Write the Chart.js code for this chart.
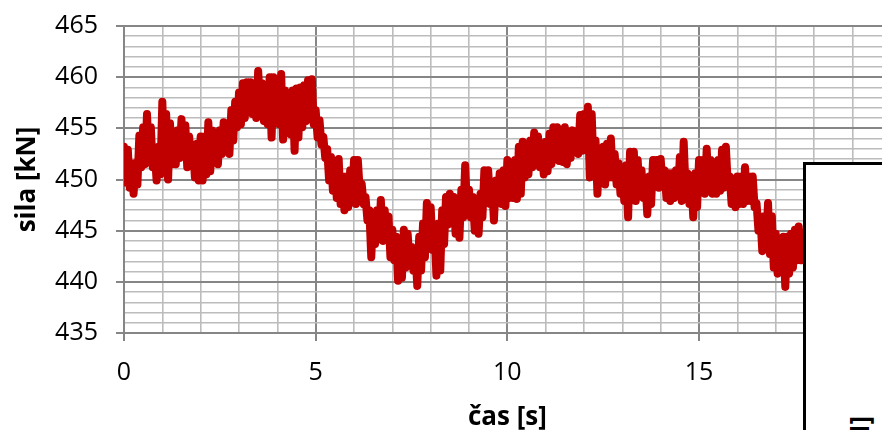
<!DOCTYPE html>
<html>
<head>
<meta charset="utf-8">
<script src="https://cdn.jsdelivr.net/npm/chart.js@4.4.1/dist/chart.umd.min.js"></script>
<style>
  html, body { margin: 0; padding: 0; background: #fff; overflow: hidden; width: 882px; height: 430px; }
  #wrap { position: relative; width: 882px; height: 430px; overflow: hidden; }
  #c { position: absolute; left: 0; top: -7px; }
  #box { position: absolute; left: 803px; top: 162px; width: 200px; height: 320px;
         border-left: 3px solid #000; border-top: 3px solid #000; background: #fff; overflow: hidden; }
  #boxlabel { position: absolute; left: 39px; top: 251px; font: bold 26px "Open Sans"; line-height: 28px;
              writing-mode: vertical-rl; transform: rotate(180deg); color: #000; white-space: nowrap; }
</style>
</head>
<body>
<div id="wrap">
  <canvas id="c" width="922" height="452"></canvas>
  <div id="box"><div id="boxlabel">sila [kN]</div></div>
</div>
<script>
// ---- data ----
const SAMPLE_DT = 0.05;          // s between samples
const X_MIN = 0, X_MAX = 20, X_STEP = 1, X_MAJOR = 5;
const Y_MIN = 435, Y_MAX = 465, Y_STEP = 1, Y_MAJOR = 5;
const xTitle = "čas [s]";
const yTitle = "sila [kN]";
const force = [
453.2,449.7, 452.9,449.2, 451.6,448.6, 451.6,449.5, 454.3,451.2, 455.1,451.5, 456.4,452.1, 455.1,451.2, 452.9,449.9, 453.2,450.5,
457.6,451.2, 456.4,450.0, 455.5,451.5, 453.5,451.5, 454.8,452.1, 455.9,452.5, 455.3,451.2, 454.2,451.8, 453.2,450.2, 453.5,449.9,
454.2,449.9, 454.2,450.5, 455.6,450.8, 454.8,452.1, 454.5,451.5, 454.8,452.5, 455.6,452.8, 455.5,452.5, 456.8,453.8, 457.6,455.1,
458.5,455.4, 459.4,456.0, 459.5,457.0, 459.5,456.4, 459.4,456.0, 460.6,457.3, 459.4,455.7, 458.1,455.4, 460.0,454.1, 460.0,456.5,
459.4,455.4, 460.3,453.9, 458.7,455.4, 457.4,454.4, 458.7,452.8, 458.9,454.1, 459.0,455.1, 459.2,455.7, 459.7,456.0, 459.8,455.4,
456.8,454.1, 455.8,453.4, 454.2,452.1, 453.0,449.9, 452.2,448.9, 451.6,448.2, 452.0,447.6, 450.3,447.0, 450.3,447.3, 450.9,448.2,
451.9,447.6, 451.9,448.9, 449.6,447.6, 448.3,446.0, 447.0,442.4, 446.7,443.7, 447.0,444.3, 448.0,444.0, 447.0,445.0, 446.4,442.4,
445.1,442.1, 444.4,440.1, 443.8,440.4, 445.1,441.4, 444.7,441.7, 443.4,441.1, 443.1,439.6, 444.4,441.1, 445.7,442.4, 447.7,443.7,
447.3,443.1, 445.1,440.6, 445.7,441.1, 447.0,443.7, 448.3,445.6, 448.6,446.3, 448.3,444.7, 448.0,444.3, 449.0,446.3, 451.4,446.9,
449.0,446.3, 448.3,445.0, 447.7,444.7, 448.6,446.3, 450.9,447.9, 450.9,447.6, 449.6,446.0, 449.9,447.9, 450.6,447.6, 450.9,447.4,
451.9,448.2, 451.4,448.2, 451.9,448.1, 453.2,448.6, 453.7,450.2, 453.5,450.5, 453.8,451.2, 454.6,451.5, 454.2,451.2, 453.5,450.5,
453.7,450.8, 454.5,451.5, 455.1,452.0, 455.1,451.8, 454.8,451.7, 455.1,451.5, 454.2,452.1, 454.8,452.8, 454.5,452.5, 456.3,452.8,
456.4,453.1, 457.1,450.2, 456.4,450.8, 453.8,448.6, 452.9,449.9, 453.2,449.5, 453.5,450.2, 454.0,450.2, 452.5,449.5, 451.6,448.6,
450.6,447.9, 451.4,446.3, 452.7,448.2, 452.7,447.9, 451.9,448.6, 450.9,448.2, 449.9,446.6, 450.3,447.6, 451.9,449.5, 451.9,449.2,
452.0,449.5, 450.9,448.2, 450.6,447.9, 450.6,448.2, 450.9,448.6, 452.2,447.9, 453.7,448.9, 450.6,447.6, 449.9,446.3, 450.6,447.3,
451.9,449.2, 451.9,448.6, 453.0,449.2, 451.9,448.6, 451.6,448.6, 451.9,448.9, 452.9,449.2, 453.2,449.5, 450.3,447.6, 449.6,447.3,
450.3,447.6, 450.3,447.6, 451.2,447.9, 450.3,447.9, 450.3,447.3, 447.7,445.0, 446.4,443.0, 446.4,443.7, 447.7,442.7, 446.4,441.4,
444.7,440.8, 444.1,441.4, 444.4,439.5, 444.4,440.8, 444.7,441.4, 445.1,442.1, 445.4,442.1, 444.7,442.7, 445.0,442.5, 444.6,442.2,
445.2,442.8
];
const points = force.map((v, i) => ({ x: +(i * SAMPLE_DT).toFixed(2), y: v }));

// ---- styles ----
const FONT = "Open Sans";
const MAJOR_C = "#868686", MINOR_C = "#bcbcbc";
const isMajor = (v, m) => Math.abs(v % m) < 1e-6 || Math.abs((v % m) - m) < 1e-6;

function gridFor(m) {
  return {
    color: (c) => isMajor(c.tick.value, m) ? MAJOR_C : MINOR_C,
    lineWidth: (c) => isMajor(c.tick.value, m) ? 2 : 1.6,
    tickColor: (c) => isMajor(c.tick.value, m) ? MAJOR_C : "rgba(0,0,0,0)",
    tickWidth: 2,
    tickLength: 8,
    drawTicks: true
  };
}

new Chart(document.getElementById("c"), {
  type: "line",
  data: { datasets: [{
    data: points,
    borderColor: "#C00000",
    borderWidth: 8,
    borderJoinStyle: "round",
    borderCapStyle: "round",
    pointRadius: 0,
    tension: 0,
    fill: false,
    clip: 0
  }]},
  options: {
    responsive: false,
    animation: false,
    events: [],
    layout: { padding: 0 },
    plugins: { legend: { display: false }, tooltip: { enabled: false } },
    scales: {
      x: {
        type: "linear", min: X_MIN, max: X_MAX,
        grid: gridFor(X_MAJOR),
        border: { color: MAJOR_C, width: 2 },
        ticks: {
          stepSize: X_STEP, autoSkip: false, maxRotation: 0, includeBounds: false,
          color: "#000", padding: 17, font: { family: FONT, size: 25 },
          callback: (v) => isMajor(v, X_MAJOR) ? String(Math.round(v)) : ""
        },
        title: { display: true, text: xTitle, color: "#000", padding: { top: 0, bottom: 12 },
                 font: { family: FONT, size: 26, weight: "bold" } },
        afterFit: (s) => { s.height = 112; }
      },
      y: {
        type: "linear", min: Y_MIN, max: Y_MAX,
        grid: gridFor(Y_MAJOR),
        border: { color: MAJOR_C, width: 2 },
        ticks: {
          stepSize: Y_STEP, autoSkip: false, includeBounds: false,
          color: "#000", padding: 18, font: { family: FONT, size: 25 },
          callback: (v) => isMajor(v, Y_MAJOR) ? String(Math.round(v)) : ""
        },
        title: { display: true, text: yTitle, color: "#000", padding: { top: 12, bottom: 0 },
                 font: { family: FONT, size: 26, weight: "bold" } },
        afterFit: (s) => { s.width = 124; }
      }
    }
  }
});
</script>
</body>
</html>
